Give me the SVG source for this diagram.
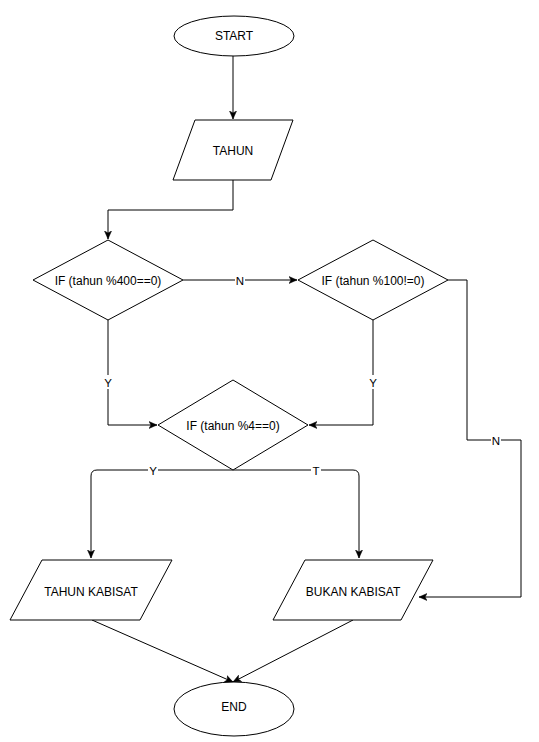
<svg xmlns="http://www.w3.org/2000/svg" width="539" height="742" viewBox="0 0 539 742">
<style>
.shape{fill:#fff;stroke:#000;stroke-width:1}
.edge{fill:none;stroke:#000;stroke-width:1}
text{font-family:"Liberation Sans",Arial,sans-serif;font-size:12px;fill:#000;text-anchor:middle;dominant-baseline:central}
.lbl{font-size:11.5px}
.bg{fill:#fff;stroke:none}
</style>
<defs>
<marker id="arr" markerWidth="10" markerHeight="10" refX="8" refY="4" orient="auto" markerUnits="userSpaceOnUse">
<path d="M0,0.5 L8,4 L0,7.5 L2,4 Z" fill="#000" stroke="#000" stroke-width="0.5"/>
</marker>
</defs>
<rect width="539" height="742" fill="#fff"/>
<g id="connectors">
<path class="edge" d="M233,56 L233,119" marker-end="url(#arr)"/>
<path class="edge" d="M233,180 L233,210 L108,210 L108,239" marker-end="url(#arr)"/>
<path class="edge" d="M183,280 L297,280" marker-end="url(#arr)"/>
<path class="edge" d="M108,320 L108,425 L157,425" marker-end="url(#arr)"/>
<path class="edge" d="M373,320 L373,425 L309,425" marker-end="url(#arr)"/>
<path class="edge" d="M448,280 L467,280 L467,440 L521,440 L521,597 L419,597" marker-end="url(#arr)"/>
<path class="edge" d="M233,470 L97,470 Q91,470 91,476 L91,558" marker-end="url(#arr)"/>
<path class="edge" d="M233,470 L353,470 Q359,470 359,476 L359,558" marker-end="url(#arr)"/>
<path class="edge" d="M92,620 L233,682" marker-end="url(#arr)"/>
<path class="edge" d="M353,620 L233,682" marker-end="url(#arr)"/>
<rect class="bg" x="235" y="273" width="10" height="14"/>
<text class="lbl" x="240" y="281">N</text>
<rect class="bg" x="103" y="375" width="10" height="14"/>
<text class="lbl" x="108" y="383">Y</text>
<rect class="bg" x="368" y="375" width="10" height="14"/>
<text class="lbl" x="373" y="383">Y</text>
<rect class="bg" x="491" y="433" width="10" height="14"/>
<text class="lbl" x="496" y="441">N</text>
<rect class="bg" x="148" y="463" width="10" height="14"/>
<text class="lbl" x="153" y="471">Y</text>
<rect class="bg" x="311" y="463" width="10" height="14"/>
<text class="lbl" x="316" y="471">T</text>
</g>
<g id="start">
<ellipse class="shape" cx="234" cy="36" rx="60" ry="20"/>
<text x="234" y="36">START</text>
</g>
<g id="tahun">
<path class="shape" d="M195,120 L293,120 L271,180 L173,180 Z"/>
<text x="233" y="151">TAHUN</text>
</g>
<g id="if400">
<path class="shape" d="M108,240 L183,280 L108,320 L33,280 Z"/>
<text x="108" y="281">IF (tahun %400==0)</text>
</g>
<g id="if100">
<path class="shape" d="M373,240 L448,280 L373,320 L298,280 Z"/>
<text x="373" y="281">IF (tahun %100!=0)</text>
</g>
<g id="if4">
<path class="shape" d="M233,380 L308,425 L233,470 L158,425 Z"/>
<text x="233" y="426">IF (tahun %4==0)</text>
</g>
<g id="kabisat">
<path class="shape" d="M42,560 L172,560 L140,620 L10,620 Z"/>
<text x="91" y="592">TAHUN KABISAT</text>
</g>
<g id="bukan">
<path class="shape" d="M305,560 L433,560 L401,620 L273,620 Z"/>
<text x="353" y="592">BUKAN KABISAT</text>
</g>
<g id="end">
<ellipse class="shape" cx="234" cy="709" rx="60" ry="27"/>
<text x="234" y="707">END</text>
</g>
</svg>
